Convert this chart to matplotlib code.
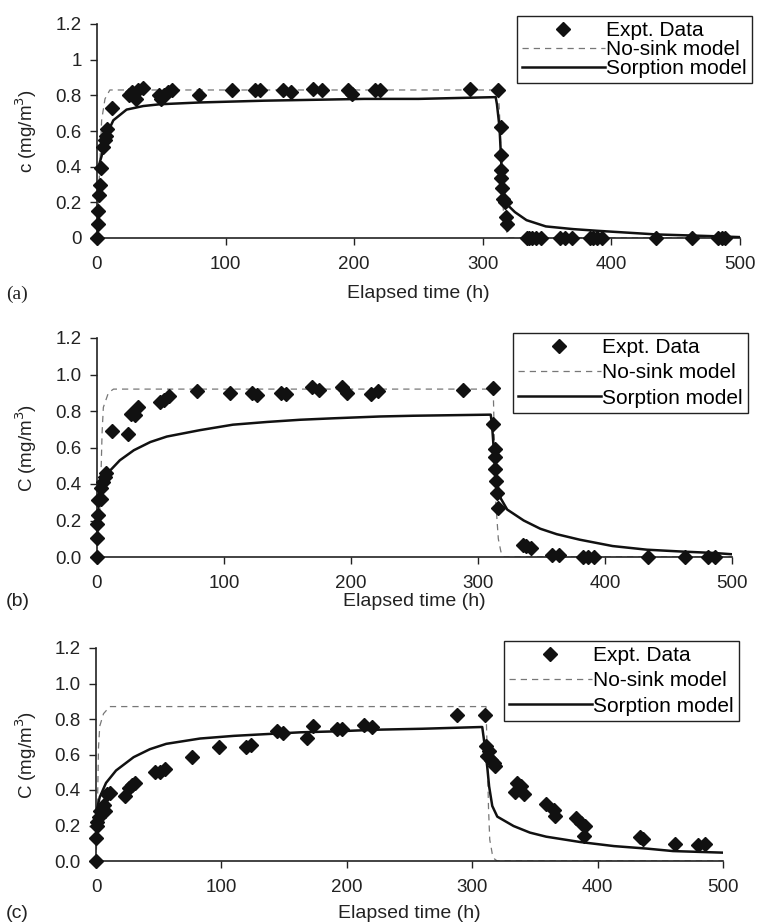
import matplotlib
matplotlib.use("Agg")
import matplotlib.pyplot as plt
from matplotlib.ticker import FuncFormatter

plt.rcParams['font.family'] = ['Liberation Sans', 'DejaVu Sans']

# ---- panel (a) ----
a_t = [0, 0.5, 1, 1.5, 2, 3, 5, 6, 7, 8, 11.4, 25, 27, 30, 32, 36, 48, 50, 52, 55, 58,
       79, 105, 123, 127, 145, 151, 168, 175, 195, 198, 216, 220, 290, 312,
       314, 314, 314, 314.5, 315, 316, 317, 318, 319,
       334, 336, 338, 341, 345, 360, 364, 369, 383, 386, 389, 393, 435, 463, 483, 486, 488]
a_c = [0, 0.08, 0.15, 0.24, 0.30, 0.39, 0.51, 0.55, 0.57, 0.61, 0.73, 0.80, 0.82, 0.78, 0.83, 0.84, 0.80, 0.78, 0.80, 0.82, 0.83,
       0.80, 0.83, 0.83, 0.83, 0.83, 0.82, 0.835, 0.83, 0.83, 0.81, 0.83, 0.83, 0.835, 0.83,
       0.625, 0.465, 0.38, 0.335, 0.28, 0.22, 0.20, 0.12, 0.08,
       0, 0, 0, 0, 0, 0, 0, 0, 0, 0, 0, 0, 0, 0, 0, 0, 0]
a_nosink_t = [0, 1, 1.8, 3.6, 6.2, 10, 312, 313, 314, 315, 316, 318, 320, 500]
a_nosink_c = [0, 0.2, 0.34, 0.66, 0.78, 0.83, 0.83, 0.70, 0.50, 0.32, 0.15, 0.05, 0, 0]
a_sorp_t = [2, 3.6, 7.5, 12.7, 23, 36, 49, 80, 130, 208, 250, 310,
            311, 313, 315, 317, 320, 325, 334, 349, 370, 390, 435, 480, 500]
a_sorp_c = [0.42, 0.46, 0.58, 0.66, 0.72, 0.74, 0.75, 0.76, 0.77, 0.78, 0.78, 0.79,
            0.75, 0.62, 0.33, 0.22, 0.18, 0.145, 0.10, 0.065, 0.05, 0.04, 0.02, 0.01, 0.005]

# ---- panel (b) ----
b_t = [0, 0, 0, 0.5, 1, 3, 3, 4.5, 7, 6, 11.5, 24.7, 27, 30, 32, 49.6, 53, 57,
       78.5, 105, 122, 126, 145, 149, 169, 175, 193, 197, 216, 221, 288, 312,
       312, 313, 313.5, 313.5, 314, 315, 316,
       335.7, 338, 342, 358, 364, 383, 387, 391, 434, 463, 481, 487]
b_c = [0, 0.106, 0.18, 0.23, 0.31, 0.32, 0.38, 0.41, 0.46, 0.44, 0.69, 0.675, 0.785, 0.78, 0.82, 0.85, 0.86, 0.88,
       0.91, 0.90, 0.90, 0.885, 0.90, 0.895, 0.93, 0.915, 0.93, 0.90, 0.895, 0.91, 0.917, 0.926,
       0.73, 0.59, 0.55, 0.48, 0.415, 0.35, 0.27,
       0.068, 0.058, 0.05, 0.013, 0.013, 0, 0, 0, 0, 0, 0, 0]
b_nosink_t = [0, 1, 2.6, 4, 5, 9, 13, 312, 313, 314, 316, 318, 320, 500]
b_nosink_c = [0, 0.12, 0.31, 0.68, 0.82, 0.90, 0.92, 0.92, 0.60, 0.30, 0.10, 0.03, 0, 0]
b_sorp_t = [1.5, 5.5, 10.5, 18, 29, 42, 55, 81, 107, 134, 160, 186, 223, 249, 310,
            311, 313, 315, 318, 323, 336, 349, 362, 380, 406, 433, 460, 486, 500]
b_sorp_c = [0.31, 0.41, 0.475, 0.53, 0.585, 0.63, 0.66, 0.695, 0.725, 0.74, 0.752, 0.76, 0.77, 0.774, 0.78,
            0.73, 0.53, 0.40, 0.32, 0.26, 0.20, 0.155, 0.125, 0.095, 0.06, 0.04, 0.03, 0.022, 0.015]

# ---- panel (c) ----
c_t = [0, 0, 0.5, 1, 2, 3, 5, 6, 7, 8.7, 11, 23, 26, 28.6, 31, 47, 51, 55,
       76.5, 97.7, 120, 124, 144, 149, 168, 173, 192, 196, 214, 220, 288, 310,
       311, 311.5, 313, 315, 317, 318, 334, 335.5, 339, 341, 359, 365, 366,
       383, 387, 389, 390, 433.7, 436, 461.6, 480, 485.5]
c_c = [0, 0.13, 0.2, 0.22, 0.25, 0.28, 0.29, 0.315, 0.28, 0.38, 0.385, 0.365, 0.41, 0.43, 0.44, 0.50, 0.50, 0.52,
       0.587, 0.64, 0.645, 0.655, 0.73, 0.72, 0.695, 0.76, 0.745, 0.745, 0.765, 0.755, 0.82, 0.825,
       0.647, 0.59, 0.62, 0.57, 0.55, 0.535, 0.39, 0.44, 0.42, 0.375, 0.32, 0.29, 0.253,
       0.244, 0.216, 0.14, 0.197, 0.137, 0.122, 0.094, 0.088, 0.094]
c_nosink_t = [0, 0.8, 2, 3, 6, 11, 311, 312, 313, 314, 316, 318, 320, 500]
c_nosink_c = [0, 0.16, 0.64, 0.76, 0.83, 0.87, 0.87, 0.60, 0.30, 0.12, 0.04, 0.01, 0, 0]
c_sorp_t = [1, 3, 8, 16, 30, 43, 56, 83, 110, 136, 163, 189, 226, 260, 308,
            310, 312, 313.5, 316, 320, 333, 346, 359, 386, 413, 439, 460, 500]
c_sorp_c = [0.30, 0.36, 0.44, 0.51, 0.585, 0.63, 0.66, 0.69, 0.705, 0.715, 0.725, 0.73, 0.74, 0.745, 0.755,
            0.65, 0.53, 0.42, 0.31, 0.25, 0.197, 0.16, 0.137, 0.107, 0.084, 0.07, 0.056, 0.047]

x_ticks = [0, 100, 200, 300, 400, 500]
y_ticks = [0, 0.2, 0.4, 0.6, 0.8, 1.0, 1.2]

W, H = 760, 924
fig = plt.figure(figsize=(W / 100, H / 100), dpi=100)


def px_axes(x0, x1, y_top, y_bot):
    return fig.add_axes([x0 / W, 1 - y_bot / H, (x1 - x0) / W, (y_bot - y_top) / H])


panels = [
    dict(box=(97, 740, 24, 238), t=a_t, c=a_c, nt=a_nosink_t, nc=a_nosink_c, st=a_sorp_t, sc=a_sorp_c,
         fmt='%g', ylab='c (mg/m$^3$)', tag='(a)', tagfont='Liberation Serif', lab_y=294,
         leg=(752, 16), lspace=0.0),
    dict(box=(97, 732, 338, 557), t=b_t, c=b_c, nt=b_nosink_t, nc=b_nosink_c, st=b_sorp_t, sc=b_sorp_c,
         fmt='%.1f', ylab='C (mg/m$^3$)', tag='(b)', tagfont='Liberation Sans', lab_y=602,
         leg=(748, 333), lspace=0.3),
    dict(box=(96, 723, 648, 861), t=c_t, c=c_c, nt=c_nosink_t, nc=c_nosink_c, st=c_sorp_t, sc=c_sorp_c,
         fmt='%.1f', ylab='C (mg/m$^3$)', tag='(c)', tagfont='Liberation Sans', lab_y=913,
         leg=(739, 641), lspace=0.3),
]

for p in panels:
    x0, x1, yt, yb = p['box']
    ax = px_axes(x0, x1, yt, yb)
    ns, = ax.plot(p['nt'], p['nc'], color='#777777', lw=0.9, ls=(0, (5, 4)), zorder=2)
    so, = ax.plot(p['st'], p['sc'], color='#111111', lw=1.8, zorder=3)
    ex, = ax.plot(p['t'], p['c'], ls='none', marker='D', ms=7, color='#111111',
                  clip_on=False, zorder=4)
    ax.set_xlim(0, 500)
    ax.set_ylim(0, 1.2)
    ax.set_xticks(x_ticks)
    ax.set_yticks(y_ticks)
    fmt = p['fmt']
    ax.yaxis.set_major_formatter(FuncFormatter(lambda v, pos, f=fmt: f % v))
    for s in ['top', 'right']:
        ax.spines[s].set_visible(False)
    for s in ['left', 'bottom']:
        ax.spines[s].set_linewidth(1.2)
        ax.spines[s].set_color('#222222')
    ax.tick_params(direction='out', length=5, width=1, colors='#222222', labelsize=13.5, pad=6)
    ax.tick_params(axis='x', pad=8)

    fig.text((x0 + x1) / 2 / W, 1 - p['lab_y'] / H, 'Elapsed time (h)', ha='center', va='center',
             fontsize=14, color='#222222')
    fig.text(6 / W, 1 - p['lab_y'] / H, p['tag'], ha='left', va='center', fontsize=14,
             family=p['tagfont'], color='#222222')
    fig.text(26 / W, 1 - (yt + yb) / 2 / H, p['ylab'], rotation=90, ha='center', va='center',
             fontsize=13.5, color='#222222')

    lx, ly = p['leg']
    leg = ax.legend([ex, ns, so], ['Expt. Data', 'No-sink model', 'Sorption model'],
                    loc='upper right', bbox_to_anchor=(lx / W, 1 - ly / H),
                    bbox_transform=fig.transFigure, borderaxespad=0, fontsize=15,
                    handlelength=4.0, handletextpad=0.05, labelspacing=p['lspace'],
                    borderpad=0.25, numpoints=1, fancybox=False, framealpha=1,
                    edgecolor='#222222')
    leg.get_frame().set_linewidth(1.0)

fig.savefig('out.png', dpi=100, facecolor='white')
